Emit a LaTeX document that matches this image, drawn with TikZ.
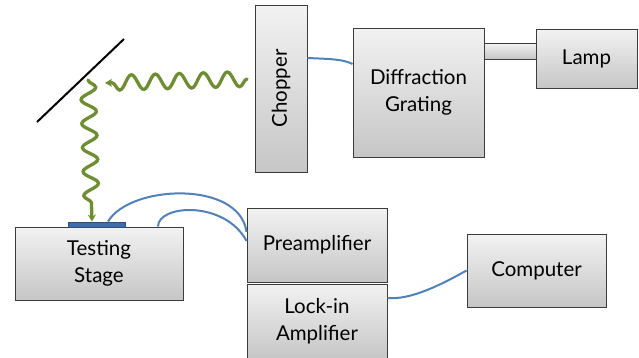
\documentclass[tikz,border=0pt]{standalone}
\usepackage{fontspec}
\setmainfont{Lato}
\usetikzlibrary{shadows,decorations.pathmorphing,arrows.meta}
\definecolor{boxline}{HTML}{3C3C3C}
\definecolor{boxtop}{HTML}{F2F2F2}
\definecolor{boxbot}{HTML}{C6C6C6}
\definecolor{wire}{HTML}{4F81BD}
\definecolor{plate}{HTML}{3E6CAA}
\definecolor{platel}{HTML}{2C4F80}
\definecolor{wave}{HTML}{6F8E32}
\tikzset{
  gbox/.style={draw=boxline, line width=0.9pt, top color=boxtop, bottom color=boxbot,
    drop shadow={opacity=0.35, shadow xshift=1.2pt, shadow yshift=-1.2pt},
    inner sep=0pt, align=center, font=\fontsize{20.5}{27}\selectfont},
  wirec/.style={draw=wire, line width=2pt},
  wavy/.style={draw=wave, line width=3.3pt, line cap=round,
    decorate, decoration={snake, amplitude=7.5pt, segment length=24pt, post length=7pt},
    -{Stealth[length=7pt,width=8pt]}},
}
\begin{document}
\begin{tikzpicture}[x=1pt,y=-1pt]
\useasboundingbox (0,0) rectangle (639,357);
% boxes
\node[gbox, minimum width=52pt, minimum height=167pt] (chopper) at (281,88.5) {\rotatebox{90}{Chopper}};
\node[gbox, minimum width=131pt, minimum height=129pt] (grating) at (418.5,92.5) {Diffraction\\Grating};
\node[gbox, minimum width=52pt, minimum height=16pt] (bar) at (510,51) {};
\node[gbox, minimum width=101pt, minimum height=59pt] (lamp) at (586.5,58.5) {Lamp};
\node[gbox, minimum width=168pt, minimum height=73pt] (stage) at (99,263.5) {Testing\\Stage};
\node[draw=platel, fill=plate, line width=0.9pt, minimum width=57pt, minimum height=5pt, inner sep=0pt] (plate) at (96.5,224.5) {};
\node[gbox, minimum width=140pt, minimum height=74pt] (preamp) at (317,245) {Preamplifier};
\node[gbox, minimum width=140pt, minimum height=74pt] (lockin) at (317,321) {Lock-in\\Amplifier};
\node[gbox, minimum width=139pt, minimum height=73pt] (computer) at (536.5,270.5) {Computer};
% mirror
\coordinate (mirA) at (37,122);
\coordinate (mirB) at (124,39);
\draw[line width=2pt, black] (mirA) -- (mirB);
% light waves
\coordinate (w1s) at (247,79);
\coordinate (w1e) at (105,83);
\coordinate (w2s) at (88,80);
\draw[wavy] (w1s) -- (w1e);
\draw[wavy] (w2s) -- ([xshift=-4.5pt]plate.north);
% wires
\draw[wirec] ([yshift=30.5pt]chopper.east) .. controls +(22,1) and +(-10,-5) .. ([yshift=28.5pt]grating.west);
\draw[wirec] ([xshift=11.5pt]plate.north) .. controls +(22,-37) and +(-7,-52) .. ([yshift=13pt]preamp.west);
\draw[wirec] ([xshift=59pt]stage.north) .. controls +(0,-22) and +(-22,-41) .. ([yshift=4pt]preamp.west);
\draw[wirec] ([yshift=23pt]lockin.east) .. controls +(23,2) and +(-27,15) .. (computer.west);
\end{tikzpicture}
\end{document}
